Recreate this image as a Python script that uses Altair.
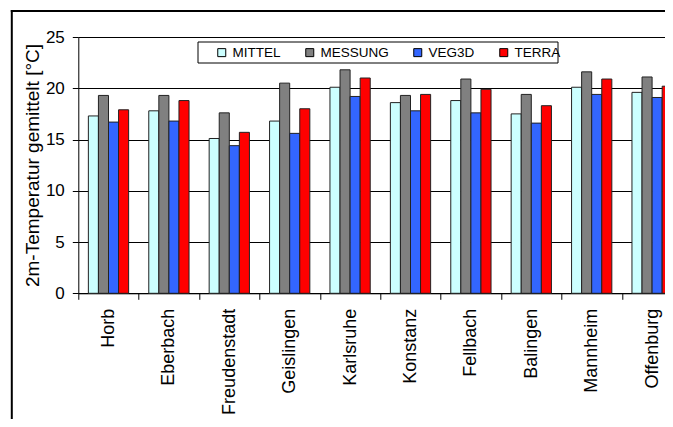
import altair as alt
import pandas as pd

stations = ["Horb", "Eberbach", "Freudenstadt", "Geislingen", "Karlsruhe",
            "Konstanz", "Fellbach", "Balingen", "Mannheim", "Offenburg"]
series = ["MITTEL", "MESSUNG", "VEG3D", "TERRA"]
mittel = [17.3, 17.8, 15.1, 16.8, 20.1, 18.6, 18.8, 17.5, 20.1, 19.6]
messung = [19.3, 19.3, 17.6, 20.5, 21.8, 19.3, 20.9, 19.4, 21.6, 21.1]
veg3d = [16.7, 16.8, 14.4, 15.6, 19.2, 17.8, 17.6, 16.6, 19.4, 19.1]
terra = [17.9, 18.8, 15.7, 18.0, 21.0, 19.4, 19.9, 18.3, 20.9, 20.2]
colors = ["#CCFFFF", "#808080", "#3366FF", "#FF0000"]
y_ticks = [0, 5, 10, 15, 20, 25]

rows = []
for name, vals in zip(series, [mittel, messung, veg3d, terra]):
    for st, v in zip(stations, vals):
        rows.append({"station": st, "series": name, "value": v})
df = pd.DataFrame(rows)

bars = alt.Chart(df).mark_bar(stroke="#222222", strokeWidth=1).encode(
    x=alt.X("station:N", sort=stations,
            scale=alt.Scale(paddingInner=0, paddingOuter=0, range=[0, 604]),
            axis=alt.Axis(title=None, labelAngle=-90, labelFontSize=18,
                          labelPadding=9, tickSize=6, tickBand="extent",
                          domainColor="black", tickColor="black",
                          labelColor="black", grid=False)),
    xOffset=alt.XOffset("series:N", sort=series,
                        scale=alt.Scale(paddingInner=0, paddingOuter=1)),
    y=alt.Y("value:Q", scale=alt.Scale(domain=[0, 25], nice=False),
            axis=alt.Axis(title="2m-Temperatur gemittelt [°C]", values=y_ticks,
                          labelFontSize=17, labelPadding=8, tickSize=6,
                          domainColor="black", tickColor="black",
                          gridColor="black", gridWidth=1, grid=True,
                          labelColor="black", titleColor="black",
                          titleFontSize=19, titleFontWeight="normal",
                          titleX=-46, titleY=128, titleAngle=-90,
                          titleAlign="center", titleBaseline="middle")),
    color=alt.Color("series:N", sort=series,
                    scale=alt.Scale(domain=series, range=colors),
                    legend=alt.Legend(title=None, orient="none", legendX=136.7,
                                      legendY=8.5, direction="horizontal",
                                      symbolType="square", symbolSize=64,
                                      symbolStrokeColor="black",
                                      symbolStrokeWidth=1, labelFontSize=13.5,
                                      labelColor="black", labelOffset=4,
                                      columnPadding=22, padding=0)),
)

one = pd.DataFrame({"k": [0]})
legend_box = alt.Chart(one).mark_rect(fill="white", stroke="black", strokeWidth=1).encode(
    x=alt.value(119.7), x2=alt.value(479.7), y=alt.value(5), y2=alt.value(26)
)
frame_left = alt.Chart(one).mark_rect(fill="black", strokeWidth=0).encode(
    x=alt.value(-67.5), x2=alt.value(-65.5), y=alt.value(-27), y2=alt.value(400)
)
frame_top = alt.Chart(one).mark_rect(fill="black", strokeWidth=0).encode(
    x=alt.value(-67.5), x2=alt.value(700), y=alt.value(-27), y2=alt.value(-25)
)

chart = alt.layer(bars, legend_box, frame_left, frame_top).properties(
    width=586.7, height=256.3,
    autosize=alt.AutoSizeParams(type="none"),
    padding={"left": 70.3, "top": 29, "right": 0, "bottom": 125.7},
).configure(font="Liberation Sans").configure_view(strokeWidth=0)

chart.save("out.html", embed_options={"renderer": "svg", "actions": False})
